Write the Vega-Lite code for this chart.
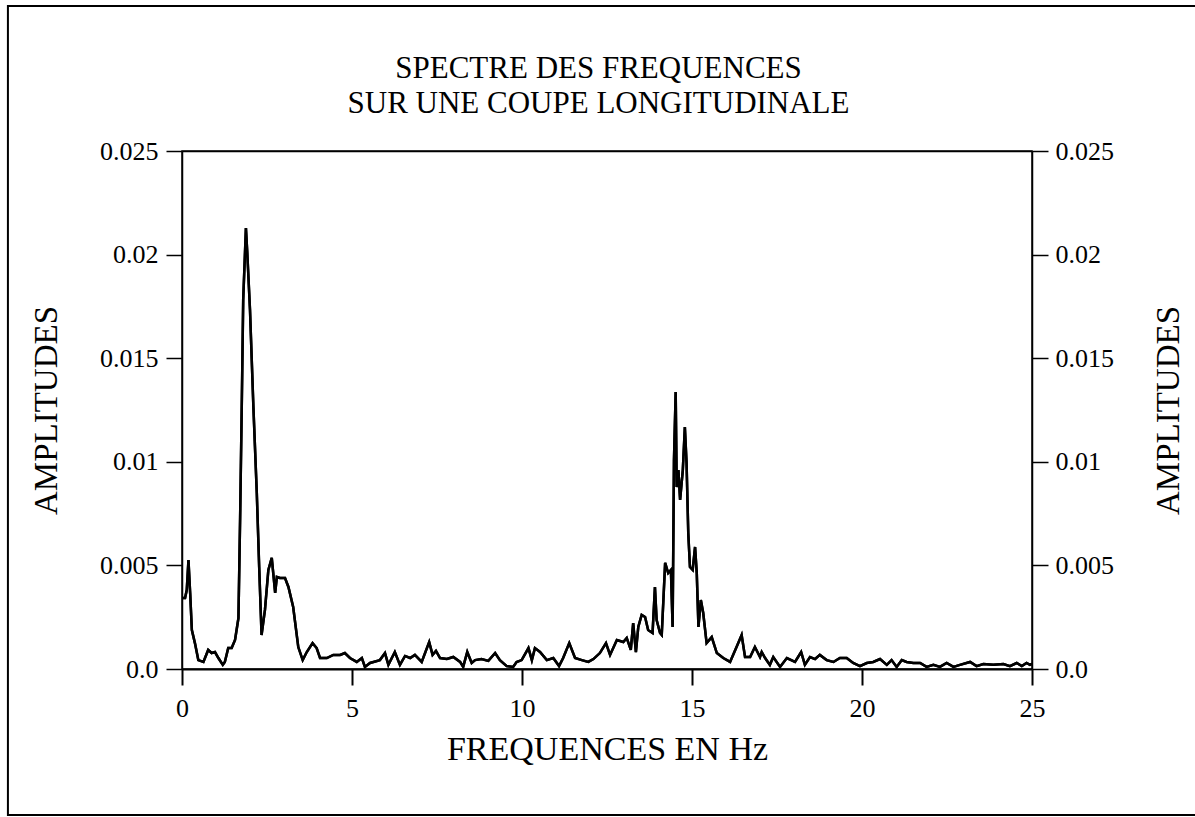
{
  "$schema": "https://vega.github.io/schema/vega-lite/v6.json",
  "width": 850,
  "height": 518,
  "autosize": {"type": "none"},
  "padding": {"left": 182, "top": 151, "right": 163, "bottom": 148},
  "background": "white",
  "config": {
    "view": {"stroke": "black", "strokeWidth": 1.5},
    "font": "Liberation Serif",
    "axis": {"grid": false, "domainColor": "black", "tickColor": "black", "labelColor": "black", "titleColor": "black", "labelFont": "Liberation Serif", "titleFont": "Liberation Serif", "titleFontWeight": "normal", "labelFontSize": 26, "titleFontSize": 33}
  },
  "datasets": {
    "spectre": [
      {"f": 0.0, "a": 0.0034},
      {"f": 0.02, "a": 0.00343},
      {"f": 0.09, "a": 0.00343},
      {"f": 0.14, "a": 0.00381},
      {"f": 0.19, "a": 0.00526},
      {"f": 0.24, "a": 0.00367},
      {"f": 0.29, "a": 0.00188},
      {"f": 0.38, "a": 0.00125},
      {"f": 0.48, "a": 0.00043},
      {"f": 0.63, "a": 0.00034},
      {"f": 0.77, "a": 0.00092},
      {"f": 0.87, "a": 0.00077},
      {"f": 0.97, "a": 0.00082},
      {"f": 1.07, "a": 0.00053},
      {"f": 1.2, "a": 0.0002},
      {"f": 1.26, "a": 0.00034},
      {"f": 1.36, "a": 0.00101},
      {"f": 1.46, "a": 0.00101},
      {"f": 1.56, "a": 0.0014},
      {"f": 1.66, "a": 0.00246},
      {"f": 1.71, "a": 0.00734},
      {"f": 1.76, "a": 0.01298},
      {"f": 1.8, "a": 0.01781},
      {"f": 1.88, "a": 0.02128},
      {"f": 1.92, "a": 0.02008},
      {"f": 2.0, "a": 0.01733},
      {"f": 2.1, "a": 0.01264},
      {"f": 2.2, "a": 0.00849},
      {"f": 2.27, "a": 0.00492},
      {"f": 2.34, "a": 0.00164},
      {"f": 2.44, "a": 0.00285},
      {"f": 2.54, "a": 0.00478},
      {"f": 2.64, "a": 0.00536},
      {"f": 2.74, "a": 0.00367},
      {"f": 2.79, "a": 0.00444},
      {"f": 2.88, "a": 0.00439},
      {"f": 3.03, "a": 0.00439},
      {"f": 3.13, "a": 0.00396},
      {"f": 3.27, "a": 0.00299},
      {"f": 3.42, "a": 0.00106},
      {"f": 3.55, "a": 0.00043},
      {"f": 3.67, "a": 0.00082},
      {"f": 3.84, "a": 0.00125},
      {"f": 3.96, "a": 0.00101},
      {"f": 4.06, "a": 0.00053},
      {"f": 4.26, "a": 0.00053},
      {"f": 4.45, "a": 0.00068},
      {"f": 4.65, "a": 0.00068},
      {"f": 4.79, "a": 0.00077},
      {"f": 4.94, "a": 0.00053},
      {"f": 5.14, "a": 0.00034},
      {"f": 5.29, "a": 0.00053},
      {"f": 5.38, "a": 0.0001},
      {"f": 5.53, "a": 0.00029},
      {"f": 5.82, "a": 0.00043},
      {"f": 5.97, "a": 0.00077},
      {"f": 6.07, "a": 0.0002},
      {"f": 6.26, "a": 0.00082},
      {"f": 6.41, "a": 0.0002},
      {"f": 6.56, "a": 0.00063},
      {"f": 6.71, "a": 0.00053},
      {"f": 6.85, "a": 0.00068},
      {"f": 7.05, "a": 0.00034},
      {"f": 7.27, "a": 0.0013},
      {"f": 7.37, "a": 0.00068},
      {"f": 7.47, "a": 0.00087},
      {"f": 7.59, "a": 0.00053},
      {"f": 7.79, "a": 0.00048},
      {"f": 7.98, "a": 0.00058},
      {"f": 8.18, "a": 0.00034},
      {"f": 8.27, "a": 0.0001},
      {"f": 8.39, "a": 0.00082},
      {"f": 8.52, "a": 0.00029},
      {"f": 8.62, "a": 0.00043},
      {"f": 8.81, "a": 0.00048},
      {"f": 9.01, "a": 0.00039},
      {"f": 9.21, "a": 0.00077},
      {"f": 9.35, "a": 0.00043},
      {"f": 9.55, "a": 0.00014},
      {"f": 9.74, "a": 0.0001},
      {"f": 9.84, "a": 0.00034},
      {"f": 9.99, "a": 0.00043},
      {"f": 10.19, "a": 0.00101},
      {"f": 10.29, "a": 0.00043},
      {"f": 10.38, "a": 0.00101},
      {"f": 10.53, "a": 0.00082},
      {"f": 10.73, "a": 0.00043},
      {"f": 10.92, "a": 0.00053},
      {"f": 11.09, "a": 0.00014},
      {"f": 11.21, "a": 0.00053},
      {"f": 11.39, "a": 0.00125},
      {"f": 11.56, "a": 0.00053},
      {"f": 11.76, "a": 0.00043},
      {"f": 11.95, "a": 0.00034},
      {"f": 12.1, "a": 0.00048},
      {"f": 12.29, "a": 0.00077},
      {"f": 12.47, "a": 0.00125},
      {"f": 12.59, "a": 0.00068},
      {"f": 12.79, "a": 0.0014},
      {"f": 12.98, "a": 0.0013},
      {"f": 13.08, "a": 0.0015},
      {"f": 13.2, "a": 0.00092},
      {"f": 13.27, "a": 0.00222},
      {"f": 13.35, "a": 0.00082},
      {"f": 13.42, "a": 0.00203},
      {"f": 13.52, "a": 0.00261},
      {"f": 13.62, "a": 0.00251},
      {"f": 13.71, "a": 0.00188},
      {"f": 13.84, "a": 0.00174},
      {"f": 13.91, "a": 0.00396},
      {"f": 13.96, "a": 0.00236},
      {"f": 14.06, "a": 0.00174},
      {"f": 14.11, "a": 0.00164},
      {"f": 14.21, "a": 0.00512},
      {"f": 14.3, "a": 0.00463},
      {"f": 14.38, "a": 0.00478},
      {"f": 14.43, "a": 0.00203},
      {"f": 14.47, "a": 0.01009},
      {"f": 14.52, "a": 0.01337},
      {"f": 14.55, "a": 0.00878},
      {"f": 14.6, "a": 0.0096},
      {"f": 14.65, "a": 0.00816},
      {"f": 14.73, "a": 0.0096},
      {"f": 14.79, "a": 0.01168},
      {"f": 14.84, "a": 0.00994},
      {"f": 14.89, "a": 0.00656},
      {"f": 14.94, "a": 0.00492},
      {"f": 15.02, "a": 0.00478},
      {"f": 15.09, "a": 0.00589},
      {"f": 15.14, "a": 0.00463},
      {"f": 15.19, "a": 0.00203},
      {"f": 15.26, "a": 0.00333},
      {"f": 15.33, "a": 0.0027},
      {"f": 15.43, "a": 0.00125},
      {"f": 15.58, "a": 0.00154},
      {"f": 15.73, "a": 0.00077},
      {"f": 15.92, "a": 0.00053},
      {"f": 16.12, "a": 0.00034},
      {"f": 16.31, "a": 0.00106},
      {"f": 16.46, "a": 0.00164},
      {"f": 16.56, "a": 0.00058},
      {"f": 16.71, "a": 0.00058},
      {"f": 16.85, "a": 0.00106},
      {"f": 17.0, "a": 0.00058},
      {"f": 17.05, "a": 0.00082},
      {"f": 17.15, "a": 0.00053},
      {"f": 17.29, "a": 0.0002},
      {"f": 17.39, "a": 0.00058},
      {"f": 17.59, "a": 0.0001},
      {"f": 17.79, "a": 0.00053},
      {"f": 18.03, "a": 0.00034},
      {"f": 18.21, "a": 0.00082},
      {"f": 18.32, "a": 0.0002},
      {"f": 18.47, "a": 0.00058},
      {"f": 18.62, "a": 0.00048},
      {"f": 18.76, "a": 0.00068},
      {"f": 18.96, "a": 0.00043},
      {"f": 19.16, "a": 0.00034},
      {"f": 19.35, "a": 0.00053},
      {"f": 19.55, "a": 0.00053},
      {"f": 19.74, "a": 0.00029},
      {"f": 19.94, "a": 0.00014},
      {"f": 20.14, "a": 0.00029},
      {"f": 20.33, "a": 0.00034},
      {"f": 20.53, "a": 0.00048},
      {"f": 20.73, "a": 0.0002},
      {"f": 20.87, "a": 0.00043},
      {"f": 21.02, "a": 0.0001},
      {"f": 21.17, "a": 0.00043},
      {"f": 21.31, "a": 0.00034},
      {"f": 21.51, "a": 0.00029},
      {"f": 21.71, "a": 0.00029},
      {"f": 21.9, "a": 0.0001},
      {"f": 22.1, "a": 0.0002},
      {"f": 22.29, "a": 0.0001},
      {"f": 22.49, "a": 0.00029},
      {"f": 22.69, "a": 0.0001},
      {"f": 22.88, "a": 0.0002},
      {"f": 23.18, "a": 0.00034},
      {"f": 23.37, "a": 0.00014},
      {"f": 23.57, "a": 0.00024},
      {"f": 23.86, "a": 0.0002},
      {"f": 24.16, "a": 0.00024},
      {"f": 24.35, "a": 0.00014},
      {"f": 24.55, "a": 0.00029},
      {"f": 24.7, "a": 0.00014},
      {"f": 24.84, "a": 0.00029},
      {"f": 24.94, "a": 0.0002},
      {"f": 25.0, "a": 0.00025}
    ],
    "cadre": [
      {"x0": -5.12, "x1": 31.0, "y0": -0.00705, "y1": 0.032}
    ]
  },
  "layer": [
    {
      "data": {"name": "spectre"},
      "mark": {"type": "line", "color": "black", "strokeWidth": 2.5, "clip": true},
      "encoding": {
        "x": {
          "field": "f", "type": "quantitative",
          "scale": {"domain": [0, 25], "nice": false},
          "axis": {"orient": "bottom", "values": [0, 5, 10, 15, 20, 25], "title": "FREQUENCES EN Hz", "titleFontSize": 34, "tickSize": 16, "tickWidth": 2, "domainWidth": 2, "labelPadding": 10, "titlePadding": 11, "labelFlush": false}
        },
        "y": {
          "field": "a", "type": "quantitative",
          "scale": {"domain": [0, 0.025], "nice": false, "zero": true},
          "axis": {"orient": "left", "values": [0, 0.005, 0.01, 0.015, 0.02, 0.025], "format": "~g", "labelExpr": "datum.value === 0 ? '0.0' : datum.label", "title": "AMPLITUDES", "tickSize": 16, "tickWidth": 1.5, "domainWidth": 1.5, "labelPadding": 8, "titlePadding": 36, "labelFlush": false}
        }
      }
    },
    {
      "data": {"name": "spectre"},
      "mark": {"type": "line", "color": "black", "strokeWidth": 2.5, "clip": true},
      "encoding": {
        "x": {
          "field": "f", "type": "quantitative",
          "scale": {"domain": [0, 25], "nice": false},
          "axis": {"orient": "top", "ticks": false, "labels": false, "domainWidth": 1.5, "title": ["SPECTRE DES FREQUENCES", "SUR UNE COUPE LONGITUDINALE"], "titleFontSize": 31, "titleLineHeight": 35, "titlePadding": 32, "titleX": 416}
        },
        "y": {
          "field": "a", "type": "quantitative",
          "scale": {"domain": [0, 0.025], "nice": false, "zero": true},
          "axis": {"orient": "right", "values": [0, 0.005, 0.01, 0.015, 0.02, 0.025], "format": "~g", "labelExpr": "datum.value === 0 ? '0.0' : datum.label", "title": "AMPLITUDES", "titleAngle": 270, "tickSize": 16, "tickWidth": 1.5, "domainWidth": 1.5, "labelPadding": 7, "titlePadding": 72, "labelFlush": false}
        }
      }
    },
    {
      "data": {"name": "cadre"},
      "mark": {"type": "rect", "fillOpacity": 0, "stroke": "black", "strokeWidth": 2, "clip": false},
      "encoding": {
        "x": {"field": "x0", "type": "quantitative", "scale": {"domain": [0, 25], "nice": false}, "axis": null},
        "x2": {"field": "x1"},
        "y": {"field": "y0", "type": "quantitative", "scale": {"domain": [0, 0.025], "nice": false, "zero": true}, "axis": null},
        "y2": {"field": "y1"}
      }
    }
  ],
  "resolve": {"axis": {"x": "independent", "y": "independent"}}
}
